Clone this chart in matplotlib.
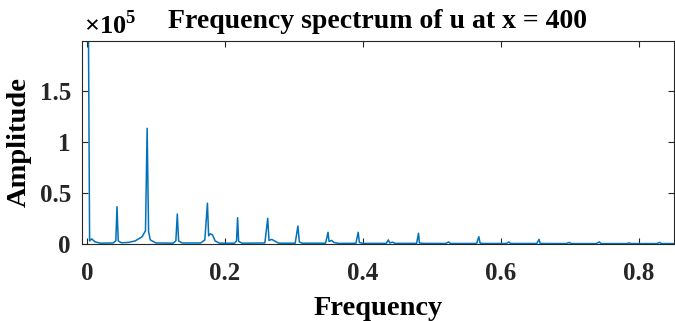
import numpy as np
import matplotlib
matplotlib.use("Agg")
import matplotlib.pyplot as plt
from matplotlib.ticker import FuncFormatter

# spectrum: line vertices (frequency, amplitude)
freq = [0.000, 0.002, 0.004, 0.007, 0.012, 0.020, 0.038, 0.042, 0.0437, 0.0455,
        0.050, 0.060, 0.070, 0.080, 0.085, 0.0874, 0.0895, 0.092, 0.100, 0.125,
        0.129, 0.1311, 0.1330, 0.138, 0.165, 0.171, 0.1748, 0.1765, 0.179, 0.182,
        0.186, 0.192, 0.214, 0.217, 0.2185, 0.220, 0.225, 0.258, 0.2622, 0.264,
        0.268, 0.272, 0.278, 0.302, 0.3059, 0.308, 0.312, 0.346, 0.3496, 0.351,
        0.355, 0.358, 0.365, 0.390, 0.3933, 0.395, 0.400, 0.434, 0.4370, 0.439,
        0.443, 0.447, 0.478, 0.4807, 0.482, 0.487, 0.520, 0.5244, 0.527, 0.565,
        0.5681, 0.570, 0.575, 0.608, 0.6118, 0.614, 0.652, 0.6555, 0.657, 0.695,
        0.6992, 0.702, 0.738, 0.7429, 0.745, 0.782, 0.7866, 0.789, 0.826, 0.8303,
        0.833, 0.860]
amp = [250000, 250000, 3000, 5000, 2000, 800, 1000, 3000, 36600, 3000,
       1200, 1500, 3000, 7000, 13000, 113400, 12000, 4000, 1000, 800,
       3000, 29400, 3000, 1000, 1000, 4000, 40000, 8000, 10000, 9000,
       3000, 800, 800, 3000, 25800, 2500, 800, 1000, 25200, 3500,
       4500, 3000, 800, 800, 17600, 2000, 800, 800, 11500, 2500,
       3500, 1500, 600, 700, 11500, 1500, 600, 600, 4000, 1000,
       1800, 600, 600, 10500, 1000, 600, 500, 2000, 500, 500,
       7200, 800, 500, 500, 2000, 500, 500, 4500, 500, 400,
       1500, 400, 400, 2000, 400, 400, 1000, 400, 400, 1500,
       400, 400]

xticks = [0, 0.2, 0.4, 0.6, 0.8]
yticks = [0, 50000, 100000, 150000]

plt.rcParams['font.family'] = ['Liberation Serif', 'DejaVu Serif']
plt.rcParams['font.weight'] = 'bold'
plt.rcParams['mathtext.fontset'] = 'custom'
plt.rcParams['mathtext.rm'] = 'Liberation Serif'
plt.rcParams['mathtext.bf'] = 'Liberation Serif:bold'

fig = plt.figure(figsize=(6.75, 3.21), dpi=100)
ax = fig.add_axes([0.1215, 0.2399, 0.877, 0.6324])

ax.plot(freq, amp, color='#0072BD', lw=1.1)

ax.set_xlim(-0.007, 0.851)
ax.set_ylim(0, 199000)
ax.set_xticks(xticks)
ax.set_yticks(yticks)
ax.xaxis.set_major_formatter(FuncFormatter(lambda v, p: '%g' % v))
ax.yaxis.set_major_formatter(FuncFormatter(lambda v, p: '%g' % (v / 1e5)))
ax.tick_params(direction='in', top=True, right=True, labelsize=18,
               length=4, width=0.8, colors='#262626')
ax.tick_params(axis='x', pad=13)
ax.tick_params(axis='y', pad=8)
for s in ax.spines.values():
    s.set_color('#262626')
    s.set_linewidth(0.8)

ax.set_title('Frequency spectrum of u at x = 400', fontsize=20,
             fontweight='bold', pad=9)
ax.set_xlabel('Frequency', fontsize=20.5, fontweight='bold', labelpad=8)
ax.set_ylabel('Amplitude', fontsize=20.5, fontweight='bold', labelpad=6)
ax.text(0.004, 1.01, r'$\times\mathbf{10}^{\mathbf{5}}$', transform=ax.transAxes,
        fontsize=19, ha='left', va='bottom')

fig.savefig('out.png', dpi=100)
